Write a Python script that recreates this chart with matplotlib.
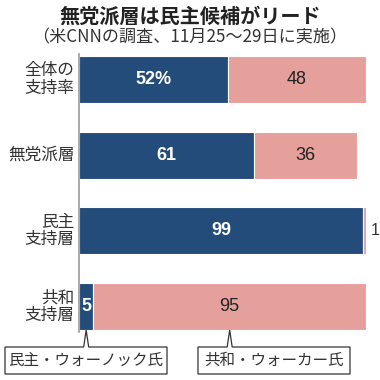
import numpy as np
import matplotlib.pyplot as plt
from matplotlib.patches import Polygon

plt.rcParams['font.family'] = ['Noto Sans CJK JP', 'DejaVu Sans']

groups = ['全体の\n支持率', '無党派層', '民主\n支持層', '共和\n支持層']
dem = [52, 61, 99, 5]
rep = [48, 36, 1, 95]
dem_labels = ['52%', '61', '99', '5']
rep_labels = ['48', '36', '1', '95']

navy = '#244c7a'
pink = '#e6a09c'
W = H = 380

fig = plt.figure(figsize=(3.8, 3.8), dpi=100)
# bar axes, placed in pixel terms
ax = fig.add_axes([79 / W, 1 - 344.4 / H, 287 / W, 302.8 / H])
y = np.arange(len(groups))
ax.barh(y, dem, height=0.62, color=navy, edgecolor='white', linewidth=0.8)
ax.barh(y, rep, left=dem, height=0.62, color=pink, edgecolor='white', linewidth=0.8)
ax.set_xlim(0, 100)
ax.set_ylim(3.5, -0.5)
ax.axis('off')
ax.plot([0, 0], [-0.33, 3.33], color='#999999', lw=1.2, clip_on=False, zorder=5)

for i in range(len(groups)):
    ax.text(dem[i] / 2, i, dem_labels[i], color='white', fontsize=13,
            fontweight='bold', ha='center', va='center', family='Liberation Sans')
    if rep[i] >= 5:
        ax.text(dem[i] + rep[i] / 2, i, rep_labels[i], color='#222222', fontsize=13,
                ha='center', va='center', family='Liberation Sans')
    else:
        ax.text(101.5, i, rep_labels[i], color='#333333', fontsize=11.5,
                ha='left', va='center', family='Liberation Sans')
    ax.text(-1.5, i, groups[i], color='#333333', fontsize=12, ha='right',
            va='center', linespacing=1.05)

fig.text(0.5, 1 - 16 / H, '無党派層は民主候補がリード', ha='center', va='center',
         fontsize=14.5, fontweight='bold', color='#222222')
fig.text(0.5, 1 - 37 / H, '（米CNNの調査、11月25～29日に実施）', ha='center',
         va='center', fontsize=12.3, color='#333333')

# callout boxes with pointer to bars
ov = fig.add_axes([0, 0, 1, 1])
ov.set_xlim(0, W)
ov.set_ylim(0, H)
ov.axis('off')
to_px = ax.transData
callouts = [('民主・ウォーノック氏', dem[3] / 2, 5, 167),
            ('共和・ウォーカー氏', dem[3] + rep[3] / 2, 198, 350)]
for txt, xv, x0, x1 in callouts:
    px, py = to_px.transform((xv, 3 + 0.31))
    top, bot = H - 347, H - 374
    pts = [(x0, top), (px - 2.5, top), (px, py), (px + 2.5, top), (x1, top),
           (x1, bot), (x0, bot)]
    ov.add_patch(Polygon(pts, closed=True, facecolor='white', edgecolor='#333333', lw=0.9))
    ov.text((x0 + x1) / 2, (top + bot) / 2, txt, ha='center', va='center',
            fontsize=11.2, color='#333333')

fig.savefig('out.png', dpi=100)
